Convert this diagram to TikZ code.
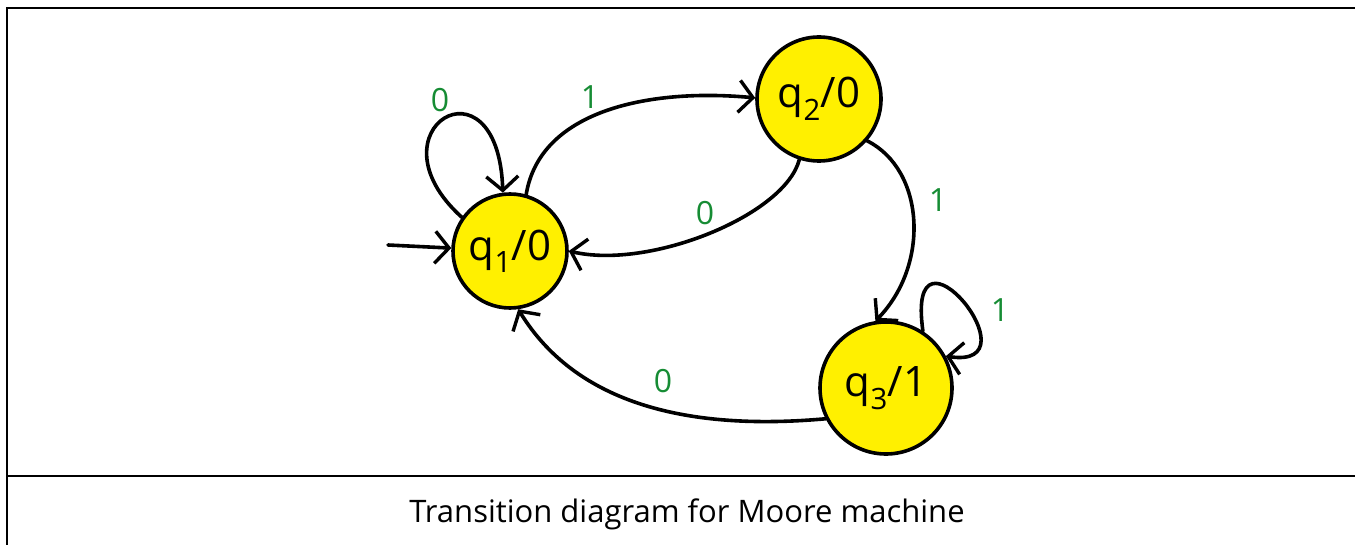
\documentclass[tikz,border=0pt]{standalone}
\usepackage{fontspec}
\setmainfont{Open Sans}
\usetikzlibrary{arrows.meta}
\definecolor{stategold}{RGB}{255,240,0}
\definecolor{labelgreen}{RGB}{22,140,52}
\begin{document}
\begin{tikzpicture}[x=1pt,y=1pt,
  state/.style={circle, draw=black, line width=3.6pt, fill=stategold, inner sep=0pt,
    font=\fontsize{42}{44}\selectfont},
  trans/.style={line width=3.6pt, line cap=round,
    -{Straight Barb[length=14pt,width=32pt,line width=3.4pt]}},
  lbl/.style={text=labelgreen, font=\fontsize{32}{34}\selectfont, inner sep=0pt},
  frameline/.style={line width=2.6pt, black}]
\useasboundingbox (0,0) rectangle (1355,-545);

% frame and caption rule
\draw[frameline] (1355,-8) -| (7,-545);
\draw[frameline] (7,-476) -- (1355,-476);
\node[font=\fontsize{31}{34}\selectfont] (cap) at (687,-514) {Transition diagram for Moore machine};

% states
\node[state, minimum size=114pt] (q1) at (510,-251) {q\textsubscript{1}/0};
\node[state, minimum size=124pt] (q2) at (819,-99)  {q\textsubscript{2}/0};
\node[state, minimum size=132pt] (q3) at (886,-388) {q\textsubscript{3}/1};

% start arrow
\coordinate (start) at (388,-245);
\draw[trans] (start) -- (q1);

% transitions
\draw[trans] (q1.145) .. controls (365,-130) and (498,-50) .. (q1.97);
\draw[trans] (q1.74) .. controls (540,-110) and (650,-88) .. (q2.179);
\draw[trans] (q2.252) .. controls (785,-215) and (650,-270) .. (q1.0);
\draw[trans] (q2.-41) .. controls (925,-170) and (930,-265) .. (q3.99);
\draw[trans] (q3.57) .. controls (905,-205) and (1040,-370) .. (q3.28);
\draw[trans] (q3.207) .. controls (700,-430) and (580,-410) .. (q1.-82);

% input labels
\node[lbl] (l11) at (440,-100) {0};
\node[lbl] (l12) at (590,-97)  {1};
\node[lbl] (l21) at (705,-213) {0};
\node[lbl] (l23) at (938,-200) {1};
\node[lbl] (l33) at (1000,-310) {1};
\node[lbl] (l31) at (663,-381) {0};
\end{tikzpicture}
\end{document}
